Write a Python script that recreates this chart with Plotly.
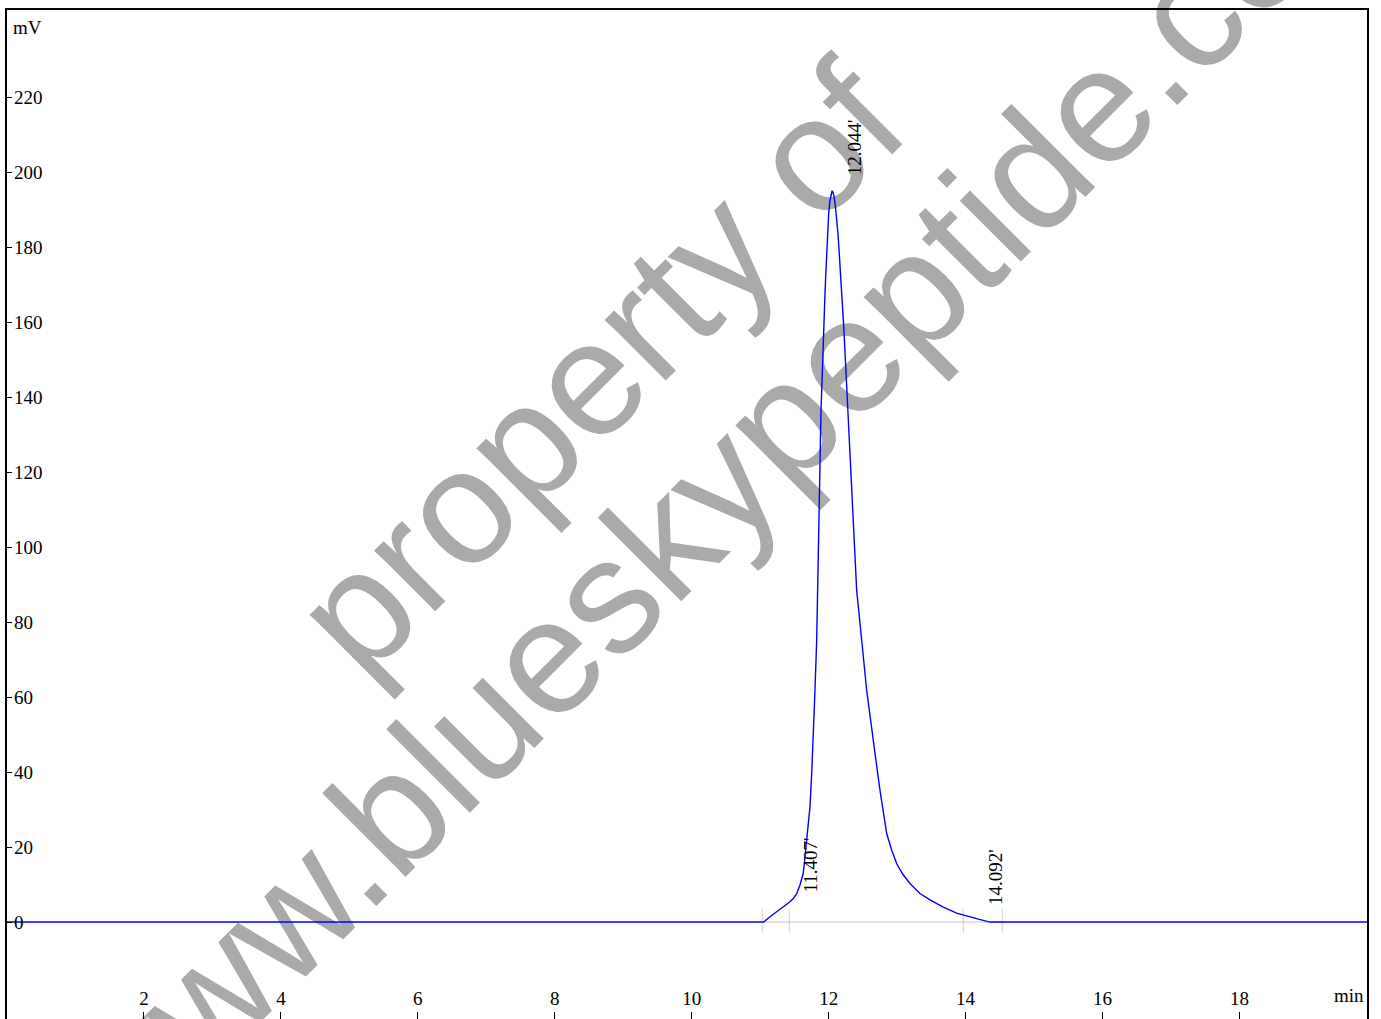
import plotly.graph_objects as go

# ---- data ----
time_min = [0.0, 11.05, 11.143, 11.240, 11.337, 11.435, 11.483, 11.533, 11.581,
            11.629, 11.654, 11.679, 11.702, 11.727, 11.752, 11.775, 11.800,
            11.825, 11.834, 11.844, 11.849, 11.858, 11.868, 11.878, 11.888,
            11.902, 11.912, 11.927, 11.941, 11.956, 11.970, 11.985, 12.000,
            12.019, 12.038, 12.050, 12.064, 12.080, 12.097, 12.116, 12.136,
            12.155, 12.180, 12.199, 12.223, 12.243, 12.262, 12.282, 12.301,
            12.321, 12.340, 12.360, 12.374, 12.409, 12.482, 12.555, 12.651,
            12.749, 12.847, 12.920, 12.993, 13.080, 13.187, 13.333, 13.480,
            13.674, 13.869, 14.064, 14.200, 14.356, 19.862]
signal_mv = [0.0, 0.0, 1.4, 2.7, 4.1, 5.4, 6.3, 7.6, 9.9,
             13.0, 17.4, 21.9, 26.3, 30.7, 39.6, 48.5, 61.8,
             75.2, 84.0, 92.9, 100.0, 115.1, 122.2, 129.3, 136.4,
             143.6, 150.6, 157.8, 164.9, 172.0, 178.2, 184.4, 188.9,
             192.4, 194.4, 195.0, 194.6, 193.3, 191.0, 187.6, 183.6,
             178.2, 172.0, 164.9, 157.8, 150.6, 143.6, 136.4, 129.3,
             122.2, 115.1, 106.2, 100.0, 88.5, 75.2, 61.8, 48.5,
             35.2, 23.6, 19.2, 15.6, 12.8, 10.3, 7.6, 5.9,
             4.0, 2.4, 1.3, 0.7, 0.0, 0.0]

peak_labels = ["11.407'", "12.044'", "14.092'"]
peak_times = [11.407, 12.044, 14.092]
peak_label_bottom_mv = [7.2, 198.5, 4.0]

marker_times = [11.03, 11.425, 13.966, 14.535]

x_tickvals = [2, 4, 6, 8, 10, 12, 14, 16, 18]
y_tickvals = [-20, 0, 20, 40, 60, 80, 100, 120, 140, 160, 180, 200, 220]

watermark_lines = ["property of", "www.blueskypeptide.com"]

# ---- geometry ----
W, H = 1381, 1019
L, R, T, B = 7, 14, 9.5, 0
pw, ph = W - L - R, H - T - B


def px_to_paper(px, py):
    return (px - L) / pw, (H - B - py) / ph


serif = "Liberation Serif"
fs = 19
fig = go.Figure()

fig.add_trace(go.Scatter(x=time_min, y=signal_mv, mode="lines",
                         line=dict(color="#0000ff", width=1.4),
                         hoverinfo="skip", showlegend=False))

shapes = []
# watermark (below traces)
wm_centers = [(588, 357), (719, 462)]
for txt, (cx, cy) in zip(watermark_lines, wm_centers):
    xp, yp = px_to_paper(cx, cy)
    shapes.append(dict(type="rect", xref="paper", yref="paper",
                       x0=xp - 0.01, x1=xp + 0.01, y0=yp - 0.01, y1=yp + 0.01,
                       line=dict(width=0), fillcolor="rgba(0,0,0,0)", layer="below",
                       label=dict(text=txt, textangle=-45, textposition="middle center",
                                  font=dict(family="Liberation Sans", size=163,
                                            color="#aaaaaa"))))

# integration baseline and markers
shapes.append(dict(type="line", xref="x", yref="y", x0=marker_times[0], x1=marker_times[-1],
                   y0=0, y1=0, line=dict(color="#c8c8c8", width=1), layer="below"))
for t in marker_times:
    shapes.append(dict(type="line", xref="x", yref="y", x0=t, x1=t, y0=-2.7, y1=3.5,
                       line=dict(color="#d0d0d0", width=1), layer="below"))

annotations = []
for lab, t, yb in zip(peak_labels, peak_times, peak_label_bottom_mv):
    annotations.append(dict(x=t + 0.335, y=yb, xref="x", yref="y", text=lab,
                            showarrow=False, textangle=-90, xanchor="center",
                            yanchor="bottom",
                            font=dict(family=serif, size=fs, color="black")))

annotations.append(dict(x=(11 - L) / pw, y=1 - (27 - T) / ph, xref="paper", yref="paper",
                        text="mV", showarrow=False, xanchor="left", yanchor="middle",
                        font=dict(family=serif, size=fs, color="black")))
annotations.append(dict(x=(1366 - L) / pw, y=(H - 995) / ph, xref="paper", yref="paper",
                        text="min", showarrow=False, xanchor="right", yanchor="middle",
                        font=dict(family=serif, size=fs, color="black")))

fig.update_layout(
    width=W, height=H,
    margin=dict(l=L, r=R, t=T, b=B, pad=0),
    paper_bgcolor="white", plot_bgcolor="white",
    shapes=shapes, annotations=annotations,
    showlegend=False,
    xaxis=dict(range=[0, 19.862], tickvals=x_tickvals, ticks="inside", ticklen=7,
               tickcolor="black", ticklabelposition="inside", ticklabelstandoff=4,
               tickfont=dict(family=serif, size=fs, color="black"),
               showgrid=False, zeroline=False, showline=True, linecolor="black",
               linewidth=1.5, mirror=True),
    yaxis=dict(range=[-25.85, 243.2], tickvals=y_tickvals, ticks="inside", ticklen=5,
               tickcolor="black", ticklabelposition="inside", ticklabelstandoff=3,
               tickfont=dict(family=serif, size=fs, color="black"),
               showgrid=False, zeroline=False, showline=True, linecolor="black",
               linewidth=1.5, mirror=True),
)

fig.write_html("out.html", config={"displayModeBar": False},
               post_script="document.body.style.margin='0px';document.body.style.overflow='hidden';")
